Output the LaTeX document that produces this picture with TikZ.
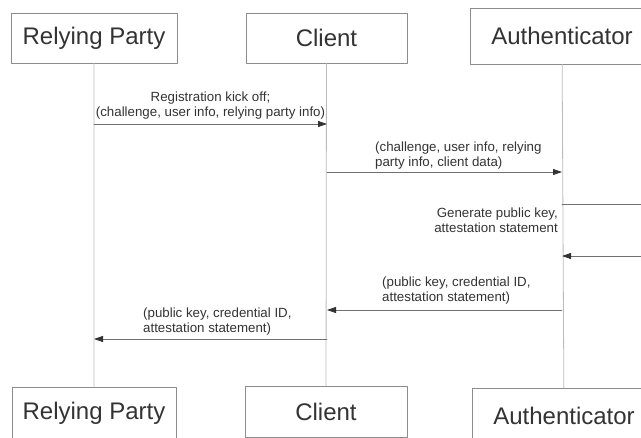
\documentclass[tikz,border=0pt]{standalone}
\usepackage{fontspec}
\setmainfont{Liberation Sans}
\usetikzlibrary{arrows.meta}
\definecolor{lifegray}{HTML}{BBBBBB}
\definecolor{boxgray}{HTML}{8C8C8C}
\definecolor{msggray}{HTML}{707070}
\definecolor{textgray}{HTML}{333333}
\begin{document}
\begin{tikzpicture}[x=1pt, y=-1pt, line cap=round, line join=round,
		>={Triangle[length=9pt,width=6pt,color=textgray]},
		actor/.style={draw=boxgray, line width=0.8pt, text=textgray, inner sep=0pt,
			font=\fontsize{24}{28}\selectfont},
		msg/.style={text=textgray, inner sep=0pt, font=\fontsize{13.3}{15}\selectfont},
		life/.style={draw=lifegray, line width=0.8pt},
		call/.style={draw=msggray, line width=0.8pt, ->}]
			\useasboundingbox (0,0) rectangle (641,438);
			\clip (0,0) rectangle (641,438);
			% heads and feet of the three lifelines
			\node[actor, minimum width=166pt, minimum height=50pt] (rpTop) at (94,38) {Relying Party};
			\node[actor, minimum width=161pt, minimum height=50pt] (clTop) at (326.5,38) {Client};
			\node[actor, minimum width=184pt, minimum height=56pt] (auTop) at (562,36) {Authenticator};
			\node[actor, minimum width=164pt, minimum height=52pt] (rpBot) at (94,413) {Relying Party};
			\node[actor, minimum width=162pt, minimum height=51pt] (clBot) at (326,411.5) {Client};
			\node[actor, minimum width=184pt, minimum height=55pt] (auBot) at (564,415.5) {Authenticator};
			\draw[life] (rpTop) -- (rpBot) (clTop) -- (clBot) (auTop) -- (auBot);
			% points where the messages meet the lifelines
			\path (94,124) coordinate (rp_1)
			(327,124) coordinate (cl_1)
			(327,172) coordinate (cl_2)
			(562,172) coordinate (au_2)
			(562,204) coordinate (au_3)
			(662,204) coordinate (out_3)
			(662,256) coordinate (back_3)
			(562,256) coordinate (au_4)
			(562,310) coordinate (au_5)
			(327,310) coordinate (cl_5)
			(327,339) coordinate (cl_6)
			(94,339) coordinate (rp_6);
			\draw[call] (rp_1) -- (cl_1);
			\draw[call] (cl_2) -- (au_2);
			\draw[call] (au_3) -- (out_3) -- (back_3) -- (au_4);
			\draw[call] (au_5) -- (cl_5);
			\draw[call] (cl_6) -- (rp_6);
			\node[msg, anchor=south, align=center] (kickoff) at (210.5,119) {Registration kick off;\\(challenge, user info, relying party info)};
			\node[msg, anchor=south west, align=left] (request) at (375,169) {(challenge, user info, relying\\party info, client data)};
			\node[msg, anchor=north east, align=right] (generate) at (558,208) {Generate public key,\\attestation statement};
			\node[msg, anchor=south west, align=left] (reply) at (382,304) {(public key, credential ID,\\attestation statement)};
			\node[msg, anchor=south west, align=left] (result) at (143,335) {(public key, credential ID,\\attestation statement)};
		\end{tikzpicture}
\end{document}
